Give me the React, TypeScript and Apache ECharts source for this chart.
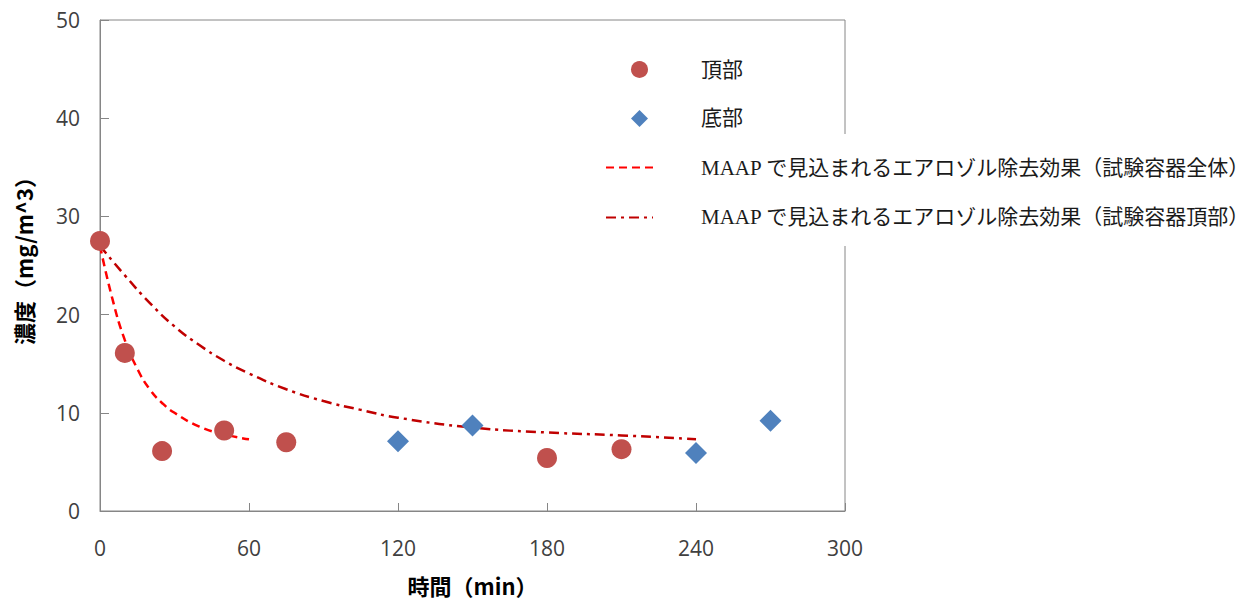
import React, { useEffect, useRef } from "react";
import * as echarts from "echarts";

const topName = "頂部";
const bottomName = "底部";
const wholeName = "MAAP で見込まれるエアロゾル除去効果（試験容器全体）";
const topModelName = "MAAP で見込まれるエアロゾル除去効果（試験容器頂部）";

// measured concentrations [time (min), concentration (mg/m^3)]
const topPoints: number[][] = [
  [0, 27.5], [10, 16.1], [25, 6.1], [50, 8.2], [75, 7.0], [180, 5.4], [210, 6.3],
];
const bottomPoints: number[][] = [
  [120, 7.1], [150, 8.7], [240, 5.9], [270, 9.2],
];
// MAAP predictions
const wholeCurve: number[][] = [
  [0, 27.0], [5, 21.6], [10, 17.4], [15, 14.5], [20, 12.4], [25, 11.0],
  [30, 10.0], [40, 8.6], [50, 7.8], [60, 7.3],
];
const topCurve: number[][] = [
  [0, 27.0], [10, 24.0], [20, 21.2], [30, 18.8], [40, 16.9], [50, 15.3],
  [60, 14.0], [75, 12.4], [90, 11.2], [105, 10.3], [120, 9.5], [150, 8.5],
  [180, 8.0], [210, 7.7], [240, 7.3],
];

const xTicks = { min: 0, max: 300, interval: 60 };
const yTicks = { min: 0, max: 50, interval: 10 };

const axisColor = "#868686";
const labelFont = "'Open Sans', 'Noto Sans', sans-serif";
const legendFont = "'Liberation Serif', 'Noto Sans CJK JP', serif";
const nameFont = "'Noto Sans CJK JP', 'Open Sans', sans-serif";

export default function App() {
  const ref = useRef<HTMLDivElement>(null);
  useEffect(() => {
    if (!ref.current) return;
    const chart = echarts.init(ref.current, null, { renderer: "svg" });
    chart.setOption({
      animation: false,
      backgroundColor: "#fff",
      grid: {
        left: 100,
        top: 20,
        right: 405,
        bottom: 89,
        show: true,
        borderColor: axisColor,
        borderWidth: 1,
        containLabel: false,
        outerBoundsMode: "none",
      },
      xAxis: {
        type: "value",
        min: xTicks.min,
        max: xTicks.max,
        interval: xTicks.interval,
        name: "時間（min）",
        nameLocation: "middle",
        nameGap: 63,
        nameTextStyle: { fontFamily: nameFont, fontSize: 22, fontWeight: "bold", color: "#000" },
        axisLine: { show: true, lineStyle: { color: axisColor, width: 1 } },
        axisTick: { show: true, inside: true, length: 8, lineStyle: { color: axisColor } },
        axisLabel: { fontFamily: labelFont, fontSize: 21, color: "#404040", margin: 26 },
        splitLine: { show: false },
      },
      yAxis: {
        type: "value",
        min: yTicks.min,
        max: yTicks.max,
        interval: yTicks.interval,
        name: "濃度（mg/m^3）",
        nameLocation: "middle",
        nameGap: 66,
        nameTextStyle: { fontFamily: nameFont, fontSize: 22, fontWeight: "bold", color: "#000", padding: [0, 0, 0, 20] },
        axisLine: { show: true, lineStyle: { color: axisColor, width: 1 } },
        axisTick: { show: true, inside: true, length: 9, lineStyle: { color: axisColor } },
        axisLabel: { fontFamily: labelFont, fontSize: 21, color: "#404040", margin: 20 },
        splitLine: { show: false },
      },
      legend: [
        {
          orient: "vertical",
          left: 631,
          top: 59,
          padding: 0,
          itemGap: 28,
          itemWidth: 17,
          itemHeight: 17,
          data: [
            { name: topName, icon: "circle" },
            { name: bottomName, icon: "diamond" },
          ],
          textStyle: { fontFamily: legendFont, fontSize: 21, color: "#1a1a1a", padding: [0, 0, 0, 48], lineHeight: 20 },
          selectedMode: false,
        },
        {
          orient: "vertical",
          left: 590,
          top: 134,
          padding: [23, 30, 18, 15],
          backgroundColor: "#fff",
          itemGap: 29,
          itemWidth: 47,
          itemHeight: 14,
          itemStyle: { opacity: 0 },
          data: [wholeName, topModelName],
          textStyle: { fontFamily: legendFont, fontSize: 21, color: "#1a1a1a", padding: [0, 0, 0, 43], lineHeight: 20 },
          selectedMode: false,
          z: 10,
        },
      ],
      series: [
        {
          name: wholeName,
          type: "line",
          data: wholeCurve,
          smooth: true,
          symbol: "none",
          lineStyle: { color: "#FF0000", width: 2.5, type: [8, 5] },
          itemStyle: { color: "#FF0000" },
          z: 2,
        },
        {
          name: topModelName,
          type: "line",
          data: topCurve,
          smooth: true,
          symbol: "none",
          lineStyle: { color: "#C00000", width: 2.5, type: [10, 5, 3, 5] },
          itemStyle: { color: "#C00000" },
          z: 2,
        },
        {
          name: topName,
          type: "scatter",
          data: topPoints,
          symbol: "circle",
          symbolSize: 20,
          itemStyle: { color: "#C0504D", opacity: 1 },
          z: 3,
        },
        {
          name: bottomName,
          type: "scatter",
          data: bottomPoints,
          symbol: "diamond",
          symbolSize: 22,
          itemStyle: { color: "#4F81BD", opacity: 1 },
          z: 3,
        },
      ],
    });
    return () => chart.dispose();
  }, []);
  return (
    <div
      ref={ref}
      style={{ position: "fixed", left: 0, top: 0, width: 1250, height: 600 }}
    />
  );
}
